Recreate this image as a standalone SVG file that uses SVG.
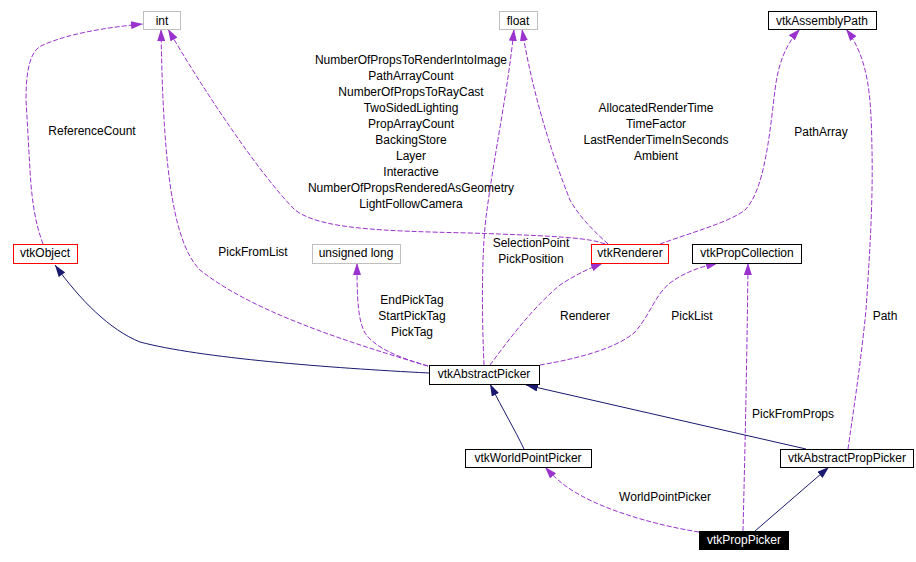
<svg xmlns="http://www.w3.org/2000/svg" width="916" height="562" viewBox="0 0 916 562">
<style>
.bg{fill:#ffffff}
.node rect{fill:#ffffff;stroke:#000000;stroke-width:1}
.node.gray rect{stroke:#bfbfbf}
.node.red rect{stroke:#ff0000}
.node.dark rect{fill:#000000;stroke:#000000}
text{font-family:"Liberation Sans",Arial,sans-serif;font-size:12px;fill:#000000;text-anchor:middle}
.node.dark text{fill:#ffffff}
.use{fill:none;stroke:#9a32cd;stroke-width:1;stroke-dasharray:5,2;marker-end:url(#ap)}
.inh{fill:none;stroke:#191970;stroke-width:1;marker-end:url(#an)}
</style>
<defs>
<marker id="ap" viewBox="0 0 12 8" refX="12" refY="4" markerWidth="12" markerHeight="8" markerUnits="userSpaceOnUse" orient="auto">
<path d="M0,0 L12,4 L0,8 z" fill="#9a32cd"/>
</marker>
<marker id="an" viewBox="0 0 12 8" refX="12" refY="4" markerWidth="12" markerHeight="8" markerUnits="userSpaceOnUse" orient="auto">
<path d="M0,0 L12,4 L0,8 z" fill="#191970"/>
</marker>
</defs>
<rect class="bg" x="0" y="0" width="916" height="562"/>

<g id="connectors">
<path class="use" d="M43,244 C36,225 32,205 30,170 L26,100 C26,70 30,50 43,45 C70,33 110,27 143,24"/>
<path class="use" d="M428,366 C340,340 250,310 200,270 C170,240 163,150 161,29"/>
<path class="use" d="M605,244 C590,238 560,236 470,233 C380,231 320,229 295,210 C260,175 200,85 168,29"/>
<path class="use" d="M484,365 C482,320 481,250 487,210 C495,150 508,90 514,29"/>
<path class="use" d="M608,244 C595,232 580,218 570,200 C550,150 532,90 522,29"/>
<path class="use" d="M660,244 C690,233 730,222 745,210 C765,190 770,130 775,90 C778,65 785,45 800,29"/>
<path class="use" d="M848,449 C852,420 860,370 866,310 C870,250 873,200 872,150 C871,100 870,60 846,29"/>
<path class="use" d="M428,366 C400,358 375,348 365,333 C358,320 357,300 357,263"/>
<path class="use" d="M490,365 C505,345 530,310 560,285 C575,275 590,268 603,263"/>
<path class="use" d="M540,365 C570,360 615,350 635,332 C650,315 655,295 670,283 C685,272 700,267 718,263"/>
<path class="use" d="M743,531 C745,450 747,360 748,263"/>
<path class="use" d="M699,532 C660,526 610,512 580,495 C565,487 555,478 545,467"/>
<path class="inh" d="M429,373 C330,368 200,358 140,342 C110,330 80,300 55,265"/>
<path class="inh" d="M524,449 C515,430 503,410 490,384"/>
<path class="inh" d="M806,449 L526,385"/>
<path class="inh" d="M755,531 L829,467"/>

<text x="92" y="135">ReferenceCount</text>
<text x="253" y="256">PickFromList</text>
<text x="411" y="64">NumberOfPropsToRenderIntoImage</text>
<text x="411" y="80">PathArrayCount</text>
<text x="411" y="96">NumberOfPropsToRayCast</text>
<text x="411" y="112">TwoSidedLighting</text>
<text x="411" y="128">PropArrayCount</text>
<text x="411" y="144">BackingStore</text>
<text x="411" y="160">Layer</text>
<text x="411" y="176">Interactive</text>
<text x="411" y="192">NumberOfPropsRenderedAsGeometry</text>
<text x="411" y="208">LightFollowCamera</text>
<text x="531" y="247">SelectionPoint</text>
<text x="531" y="263">PickPosition</text>
<text x="656" y="112">AllocatedRenderTime</text>
<text x="656" y="128">TimeFactor</text>
<text x="656" y="144">LastRenderTimeInSeconds</text>
<text x="656" y="160">Ambient</text>
<text x="821" y="136">PathArray</text>
<text x="885" y="320">Path</text>
<text x="412" y="304">EndPickTag</text>
<text x="412" y="320">StartPickTag</text>
<text x="412" y="336">PickTag</text>
<text x="585" y="320">Renderer</text>
<text x="692" y="320">PickList</text>
<text x="793" y="418">PickFromProps</text>
<text x="665" y="501">WorldPointPicker</text>
</g>

<g id="int" class="node gray"><rect x="143.5" y="11.5" width="37" height="18"/><text x="162" y="25">int</text></g>
<g id="float" class="node gray"><rect x="499.5" y="11.5" width="38" height="18"/><text x="518" y="25">float</text></g>
<g id="vtkAssemblyPath" class="node"><rect x="768.5" y="11.5" width="108" height="18"/><text x="822" y="25">vtkAssemblyPath</text></g>
<g id="vtkObject" class="node red"><rect x="13.5" y="244.5" width="64" height="19"/><text x="45" y="257">vtkObject</text></g>
<g id="unsigned_long" class="node gray"><rect x="312.5" y="244.5" width="88" height="19"/><text x="356" y="257">unsigned long</text></g>
<g id="vtkRenderer" class="node red"><rect x="591.5" y="244.5" width="77" height="19"/><text x="630" y="257">vtkRenderer</text></g>
<g id="vtkPropCollection" class="node"><rect x="692.5" y="244.5" width="109" height="19"/><text x="747" y="257">vtkPropCollection</text></g>
<g id="vtkAbstractPicker" class="node"><rect x="429.5" y="365.5" width="110" height="19"/><text x="484" y="378">vtkAbstractPicker</text></g>
<g id="vtkWorldPointPicker" class="node"><rect x="465.5" y="449.5" width="126" height="18"/><text x="528" y="462">vtkWorldPointPicker</text></g>
<g id="vtkAbstractPropPicker" class="node"><rect x="780.5" y="449.5" width="133" height="18"/><text x="847" y="462">vtkAbstractPropPicker</text></g>
<g id="vtkPropPicker" class="node dark"><rect x="699.5" y="531.5" width="89" height="18"/><text x="744" y="544">vtkPropPicker</text></g>
</svg>
